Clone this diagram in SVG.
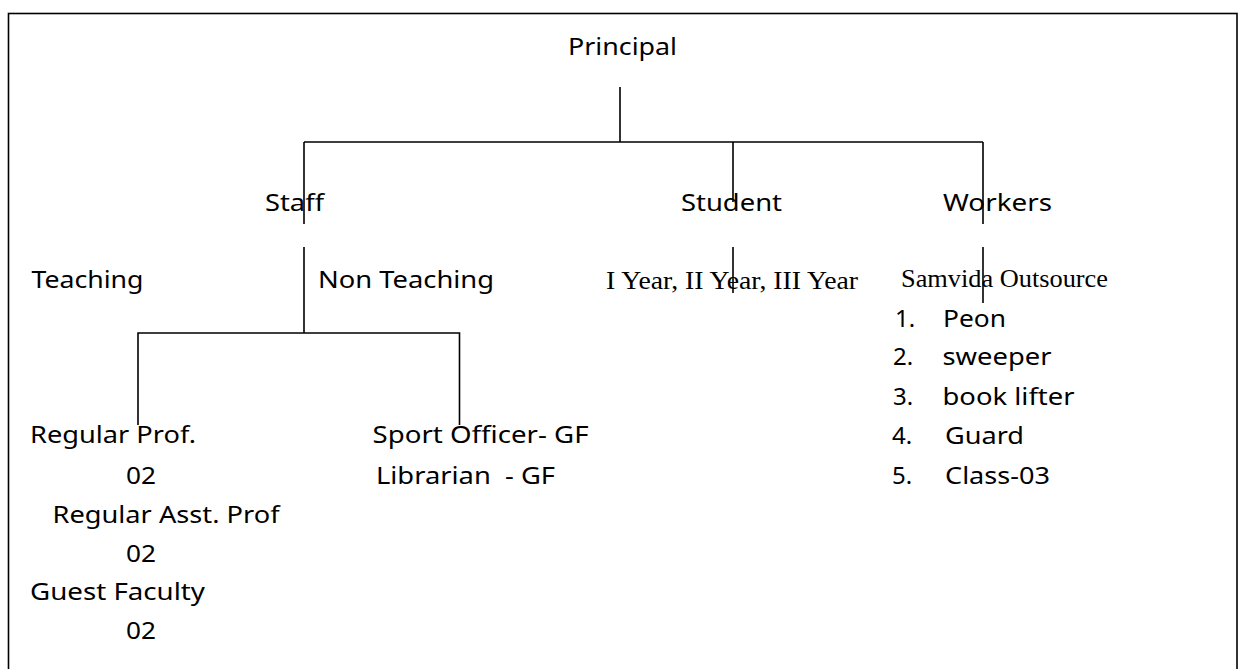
<svg xmlns="http://www.w3.org/2000/svg" width="1238" height="669" viewBox="0 0 1238 669">
<style>
.s{font-family:"Noto Sans","Open Sans","Liberation Sans",sans-serif;font-size:24px;fill:#000;white-space:pre}
.t{font-family:"Liberation Serif","Times New Roman",serif;font-size:25px;fill:#000;white-space:pre}
.ln{stroke:#000;stroke-width:1.6;fill:none}
</style>
<rect x="8.5" y="13.5" width="1228.5" height="700" fill="#fff" stroke="#000" stroke-width="1.6"/>
<g id="connectors" class="ln">
<path d="M620 87V142M304 142H983M304 142V224M733 142V202M983 142V224"/>
<path d="M304 247V333M733 247V293M983 247V303"/>
<path d="M138 425V333H459.5V425"/>
</g>
<g id="principal"><text class="s" x="568" y="55" textLength="109" lengthAdjust="spacingAndGlyphs">Principal</text></g>
<g id="staff"><text class="s" x="265" y="211" textLength="59" lengthAdjust="spacingAndGlyphs">Staff</text></g>
<g id="student"><text class="s" x="681" y="211" textLength="101" lengthAdjust="spacingAndGlyphs">Student</text></g>
<g id="workers"><text class="s" x="943" y="211" textLength="109" lengthAdjust="spacingAndGlyphs">Workers</text></g>
<g id="teaching"><text class="s" x="31.5" y="288" textLength="112" lengthAdjust="spacingAndGlyphs">Teaching</text></g>
<g id="nonteaching"><text class="s" x="318" y="288" textLength="176" lengthAdjust="spacingAndGlyphs">Non Teaching</text></g>
<g id="years"><text class="t" x="606" y="289" textLength="252" lengthAdjust="spacingAndGlyphs">I Year, II Year, III Year</text></g>
<g id="samvida"><text class="t" x="901" y="287" textLength="207" lengthAdjust="spacingAndGlyphs">Samvida Outsource</text></g>
<g id="worker-list">
<text class="s" x="895" y="327">1.</text><text class="s" x="943" y="327" textLength="63" lengthAdjust="spacingAndGlyphs">Peon</text>
<text class="s" x="893" y="365">2.</text><text class="s" x="942.5" y="365" textLength="109" lengthAdjust="spacingAndGlyphs">sweeper</text>
<text class="s" x="893" y="405">3.</text><text class="s" x="942.5" y="405" textLength="132" lengthAdjust="spacingAndGlyphs">book lifter</text>
<text class="s" x="892" y="444">4.</text><text class="s" x="945" y="444" textLength="79" lengthAdjust="spacingAndGlyphs">Guard</text>
<text class="s" x="892" y="484">5.</text><text class="s" x="945" y="484" textLength="105" lengthAdjust="spacingAndGlyphs">Class-03</text>
</g>
<g id="teaching-staff">
<text class="s" x="30" y="443" textLength="166" lengthAdjust="spacingAndGlyphs">Regular Prof.</text>
<text class="s" x="126" y="484" textLength="30" lengthAdjust="spacingAndGlyphs">02</text>
<text class="s" x="52.5" y="523" textLength="227" lengthAdjust="spacingAndGlyphs">Regular Asst. Prof</text>
<text class="s" x="126" y="562" textLength="30" lengthAdjust="spacingAndGlyphs">02</text>
<text class="s" x="30" y="600" textLength="175" lengthAdjust="spacingAndGlyphs">Guest Faculty</text>
<text class="s" x="126" y="639" textLength="30" lengthAdjust="spacingAndGlyphs">02</text>
</g>
<g id="nonteaching-staff">
<text class="s" x="372.5" y="443" textLength="216" lengthAdjust="spacingAndGlyphs">Sport Officer- GF</text>
<text class="s" x="376" y="484" textLength="179" lengthAdjust="spacingAndGlyphs">Librarian  - GF</text>
</g>
</svg>
